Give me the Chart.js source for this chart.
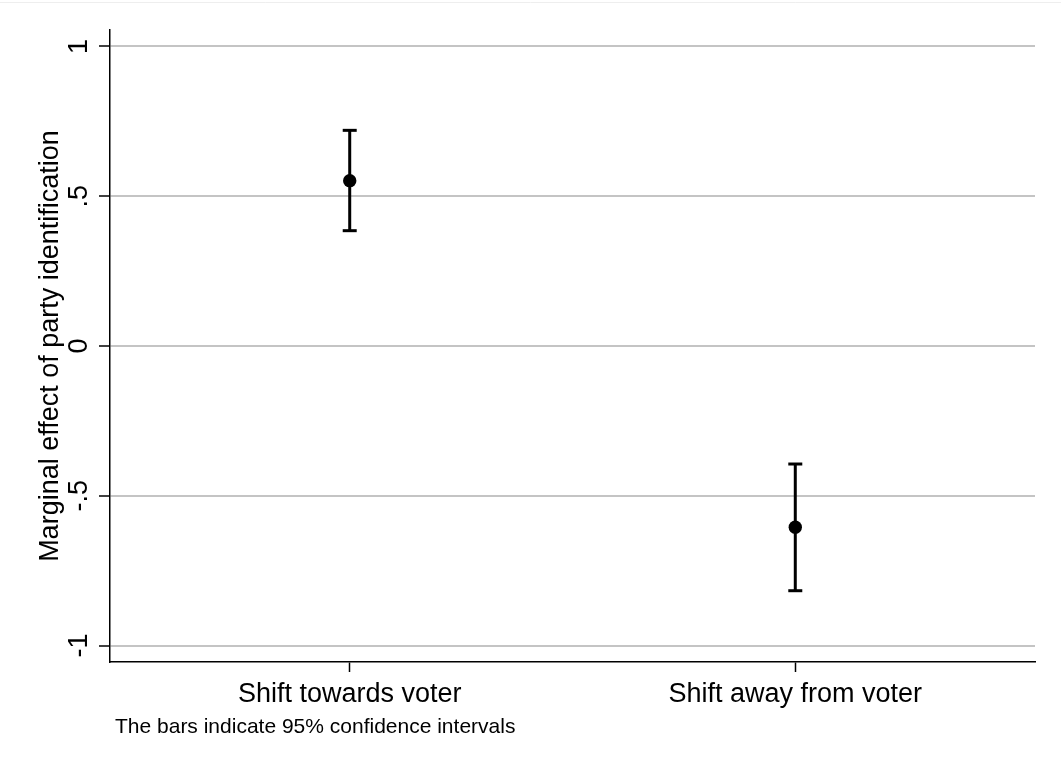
<!DOCTYPE html>
<html>
<head>
<meta charset="utf-8">
<script src="https://cdn.jsdelivr.net/npm/chart.js@4"></script>
<style>
  html, body { margin: 0; padding: 0; background: #fff; overflow: hidden; }
  canvas { display: block; }
</style>
</head>
<body>
<canvas id="chart" width="1061" height="771"></canvas>
<script>
// Data
const categories = ['Shift towards voter', 'Shift away from voter'];
const categoryX = [1, 2];
const estimates = [0.552, -0.605];
const lowerCI = [0.385, -0.817];
const upperCI = [0.720, -0.394];
const yTicks = [-1, -0.5, 0, 0.5, 1];
const yTickLabels = ['-1', '-.5', '0', '.5', '1'];
const yTitle = 'Marginal effect of party identification';
const footnote = 'The bars indicate 95% confidence intervals';

const FONT = '"Liberation Sans", Arial, sans-serif';

// whiskers: one segment per category, broken by a null point
function whiskerData() {
    const pts = [];
    categoryX.forEach((x, i) => {
        pts.push({x: x, y: lowerCI[i]});
        pts.push({x: x, y: upperCI[i]});
        pts.push({x: x, y: null});
    });
    return pts;
}

function capData() {
    const pts = [];
    categoryX.forEach((x, i) => {
        pts.push({x: x, y: lowerCI[i]});
        pts.push({x: x, y: upperCI[i]});
    });
    return pts;
}

// rotated y tick labels, footnote and faint frame line
const extras = {
    id: 'extras',
    beforeDraw(chart) {
        const ctx = chart.ctx;
        ctx.save();
        ctx.fillStyle = '#fff';
        ctx.fillRect(0, 0, chart.width, chart.height);
        ctx.strokeStyle = '#eeeeee';
        ctx.lineWidth = 1;
        ctx.beginPath();
        ctx.moveTo(0, 2.5);
        ctx.lineTo(chart.width, 2.5);
        ctx.stroke();
        ctx.restore();
    },
    afterDraw(chart) {
        const ctx = chart.ctx;
        const y = chart.scales.y;
        ctx.save();
        ctx.fillStyle = '#000';
        ctx.font = '27px ' + FONT;
        ctx.textAlign = 'center';
        ctx.textBaseline = 'alphabetic';
        yTicks.forEach((v, i) => {
            const py = y.getPixelForValue(v);
            ctx.save();
            ctx.translate(87, py);
            ctx.rotate(-Math.PI / 2);
            ctx.fillText(yTickLabels[i], 0, 0);
            ctx.restore();
        });
        ctx.font = '21px ' + FONT;
        ctx.textAlign = 'left';
        ctx.fillText(footnote, 115, 733);
        ctx.restore();
    }
};

const ctx = document.getElementById('chart').getContext('2d');
new Chart(ctx, {
    type: 'scatter',
    data: {
        datasets: [
            {
                type: 'line',
                data: whiskerData(),
                borderColor: '#000',
                borderWidth: 3,
                pointRadius: 0,
                spanGaps: false,
                fill: false
            },
            {
                data: capData(),
                pointStyle: 'line',
                pointRadius: 7,
                borderColor: '#000',
                borderWidth: 3
            },
            {
                data: categoryX.map((x, i) => ({x: x, y: estimates[i]})),
                pointStyle: 'circle',
                pointRadius: 6.7,
                backgroundColor: '#000',
                borderColor: '#000',
                borderWidth: 0
            }
        ]
    },
    options: {
        responsive: false,
        animation: false,
        layout: { padding: { top: 30, right: 26, left: 0, bottom: 0 } },
        plugins: {
            legend: { display: false },
            tooltip: { enabled: false }
        },
        scales: {
            x: {
                type: 'linear',
                min: 0.462,
                max: 2.538,
                afterBuildTicks: function(scale) {
                    scale.ticks = categoryX.map(v => ({value: v}));
                },
                afterFit: function(scale) { scale.height = 771 - 662; },
                ticks: {
                    autoSkip: false,
                    maxRotation: 0,
                    padding: 6,
                    color: '#000',
                    font: { family: FONT, size: 27 },
                    callback: function(value) {
                        const i = categoryX.indexOf(value);
                        return i >= 0 ? categories[i] : '';
                    }
                },
                grid: {
                    drawOnChartArea: false,
                    drawTicks: true,
                    tickLength: 10,
                    tickColor: '#000',
                    tickWidth: 1.5
                },
                border: { color: '#000', width: 1.5 }
            },
            y: {
                min: -1.055,
                max: 1.055,
                afterBuildTicks: function(scale) {
                    scale.ticks = yTicks.map(v => ({value: v}));
                },
                afterFit: function(scale) { scale.width = 110; },
                ticks: {
                    color: 'rgba(0,0,0,0)',
                    font: { family: FONT, size: 27 }
                },
                grid: {
                    color: '#c4c4c4',
                    lineWidth: 2,
                    drawTicks: true,
                    tickLength: 11,
                    tickColor: '#000',
                    tickWidth: 1.5
                },
                border: { color: '#000', width: 1.5 },
                title: {
                    display: true,
                    text: yTitle,
                    color: '#000',
                    font: { family: FONT, size: 27 },
                    padding: { top: 34, bottom: 0 }
                }
            }
        }
    },
    plugins: [extras]
});
</script>
</body>
</html>
